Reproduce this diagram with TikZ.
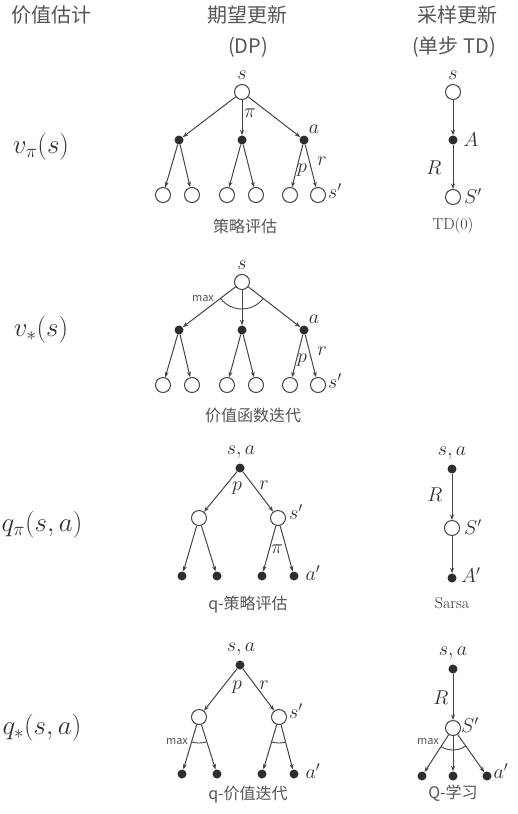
\RequirePackage{fix-cm}
\documentclass[tikz,border=0pt]{standalone}
\usepackage{fontspec}
\newfontfamily\cjk{Noto Sans CJK SC}
\usetikzlibrary{arrows.meta}
\definecolor{lc}{HTML}{444444}
\definecolor{dc}{HTML}{2E2E2E}
\definecolor{tc}{HTML}{303030}
\definecolor{hc}{HTML}{555555}
\begin{document}
\begin{tikzpicture}[x=1pt,y=-1pt,
  ocirc/.style={circle, draw=lc, line width=1pt, minimum size=15pt, inner sep=0pt, fill=white},
  fdot/.style={circle, fill=dc, minimum size=9pt, inner sep=0pt},
  edge/.style={draw=lc, line width=1pt, -{Stealth[length=5.5pt,width=4pt]}},
  maxarc/.style={draw=lc, line width=0.9pt},
  lab/.style={text=tc, font=\fontsize{20}{22}\selectfont, inner sep=0pt},
  bigmath/.style={text=tc, font=\fontsize{27}{30}\selectfont, inner sep=0pt},
  headtxt/.style={text=hc, font=\cjk\fontsize{20}{24}\selectfont, inner sep=0pt},
  captxt/.style={text=hc, font=\cjk\fontsize{16}{18}\selectfont, inner sep=0pt},
  capser/.style={text=tc, font=\fontsize{16}{18}\selectfont, inner sep=0pt},
  mxtxt/.style={text=hc, font=\cjk\fontsize{11}{12}\selectfont, inner sep=0pt}]
\useasboundingbox (0,0) rectangle (518,814);

% headers
\node[headtxt] (h1) at (52,15) {价值估计};
\node[headtxt] (h2) at (247,15) {期望更新};
\node[headtxt] (h2b) at (248,47) {(DP)};
\node[headtxt] (h3) at (457,15) {采样更新};
\node[headtxt] (h3b) at (454,47) {(单步 TD)};

% left labels
\node[bigmath] (L1) at (41,147) {$v_\pi(s)$};
\node[bigmath] (L2) at (41,330) {$v_*(s)$};
\node[bigmath] (L3) at (42,525) {$q_\pi(s,a)$};
\node[bigmath] (L4) at (42,728) {$q_*(s,a)$};

% ---------- Row 1 DP ----------
\node[ocirc] (r1) at (242,92) {};
\node[fdot] (r1a) at (179,140) {};
\node[fdot] (r1b) at (242,140) {};
\node[fdot] (r1c) at (304,140) {};
\node[ocirc] (r1l1) at (163,195) {};
\node[ocirc] (r1l2) at (192,195) {};
\node[ocirc] (r1l3) at (227,195) {};
\node[ocirc] (r1l4) at (256,195) {};
\node[ocirc] (r1l5) at (290,195) {};
\node[ocirc] (r1l6) at (318,195) {};
\draw[edge] (r1) -- (r1a);
\draw[edge] (r1) -- (r1b);
\draw[edge] (r1) -- (r1c);
\draw[edge] (r1a) -- (r1l1);
\draw[edge] (r1a) -- (r1l2);
\draw[edge] (r1b) -- (r1l3);
\draw[edge] (r1b) -- (r1l4);
\draw[edge] (r1c) -- (r1l5);
\draw[edge] (r1c) -- (r1l6);
\node[lab] (r1s) at (242,75) {$s$};
\node[lab] (r1pi) at (250,113) {$\pi$};
\node[lab] (r1an) at (314,129) {$a$};
\node[lab] (r1p) at (302,170) {$p$};
\node[lab] (r1r) at (322,161) {$r$};
\node[lab] (r1sp) at (335,191) {$s'$};
\node[captxt] (c1) at (245,226) {策略评估};

% ---------- Row 1 TD ----------
\node[ocirc] (t1) at (453,92) {};
\node[fdot] (t1a) at (453,140) {};
\node[ocirc] (t1s) at (453,197) {};
\draw[edge] (t1) -- (t1a);
\draw[edge] (t1a) -- (t1s);
\node[lab] (t1sl) at (453,75) {$s$};
\node[lab] (t1al) at (471,140) {$A$};
\node[lab] (t1rl) at (434,168) {$R$};
\node[lab] (t1spl) at (473,196) {$S'$};
\node[capser] (c1t) at (453,226) {TD(0)};

% ---------- Row 2 DP ----------
\node[ocirc] (r2) at (242,282) {};
\node[fdot] (r2a) at (179,330) {};
\node[fdot] (r2b) at (242,330) {};
\node[fdot] (r2c) at (304,330) {};
\node[ocirc] (r2l1) at (163,385) {};
\node[ocirc] (r2l2) at (192,385) {};
\node[ocirc] (r2l3) at (227,385) {};
\node[ocirc] (r2l4) at (256,385) {};
\node[ocirc] (r2l5) at (290,385) {};
\node[ocirc] (r2l6) at (318,385) {};
\draw[edge] (r2) -- (r2a);
\draw[edge] (r2) -- (r2b);
\draw[edge] (r2) -- (r2c);
\draw[edge] (r2a) -- (r2l1);
\draw[edge] (r2a) -- (r2l2);
\draw[edge] (r2b) -- (r2l3);
\draw[edge] (r2b) -- (r2l4);
\draw[edge] (r2c) -- (r2l5);
\draw[edge] (r2c) -- (r2l6);
\draw[maxarc] ([shift={(142.7:27)}]r2.center) arc[start angle=142.7, end angle=37.7, radius=27];
\node[mxtxt] (r2mx) at (203,299) {max};
\node[lab] (r2s) at (242,265) {$s$};
\node[lab] (r2an) at (314,319) {$a$};
\node[lab] (r2p) at (302,360) {$p$};
\node[lab] (r2r) at (322,351) {$r$};
\node[lab] (r2sp) at (335,381) {$s'$};
\node[captxt] (c2) at (253,415) {价值函数迭代};

% ---------- Row 3 DP ----------
\node[fdot] (r3) at (240,468) {};
\node[ocirc] (r3a) at (199,518) {};
\node[ocirc] (r3b) at (278,518) {};
\node[fdot] (r3l1) at (182,576) {};
\node[fdot] (r3l2) at (217,576) {};
\node[fdot] (r3l3) at (262,576) {};
\node[fdot] (r3l4) at (294,576) {};
\draw[edge] (r3) -- (r3a);
\draw[edge] (r3) -- (r3b);
\draw[edge] (r3a) -- (r3l1);
\draw[edge] (r3a) -- (r3l2);
\draw[edge] (r3b) -- (r3l3);
\draw[edge] (r3b) -- (r3l4);
\node[lab] (r3sa) at (241,452) {$s,a$};
\node[lab] (r3p) at (237,488) {$p$};
\node[lab] (r3r) at (264,485) {$r$};
\node[lab] (r3sp) at (296,512) {$s'$};
\node[lab] (r3pi) at (277,549) {$\pi$};
\node[lab] (r3ap) at (313,573) {$a'$};
\node[captxt] (c3) at (248,605) {q-策略评估};

% ---------- Row 3 TD ----------
\node[fdot] (t3) at (452,469) {};
\node[ocirc] (t3s) at (452,528) {};
\node[fdot] (t3a) at (452,578) {};
\draw[edge] (t3) -- (t3s);
\draw[edge] (t3s) -- (t3a);
\node[lab] (t3sa) at (452,453) {$s,a$};
\node[lab] (t3rl) at (435,495) {$R$};
\node[lab] (t3spl) at (473,527) {$S'$};
\node[lab] (t3apl) at (471,575) {$A'$};
\node[capser] (c3t) at (452,603) {Sarsa};

% ---------- Row 4 DP ----------
\node[fdot] (r4) at (240,665) {};
\node[ocirc] (r4a) at (199,717) {};
\node[ocirc] (r4b) at (279,717) {};
\node[fdot] (r4l1) at (182,774) {};
\node[fdot] (r4l2) at (217,774) {};
\node[fdot] (r4l3) at (262,774) {};
\node[fdot] (r4l4) at (294,774) {};
\draw[edge] (r4) -- (r4a);
\draw[edge] (r4) -- (r4b);
\draw[edge] (r4a) -- (r4l1);
\draw[edge] (r4a) -- (r4l2);
\draw[edge] (r4b) -- (r4l3);
\draw[edge] (r4b) -- (r4l4);
\draw[maxarc] ([shift={(106.6:26)}]r4a.center) arc[start angle=106.6, end angle=73.4, radius=26];
\draw[maxarc] ([shift={(106.6:26)}]r4b.center) arc[start angle=106.6, end angle=75.3, radius=26];
\node[mxtxt] (r4mx) at (177,741) {max};
\node[lab] (r4sa) at (241,649) {$s,a$};
\node[lab] (r4p) at (237,687) {$p$};
\node[lab] (r4r) at (264,685) {$r$};
\node[lab] (r4sp) at (296,711) {$s'$};
\node[lab] (r4ap) at (313,771) {$a'$};
\node[captxt] (c4) at (248,795) {q-价值迭代};

% ---------- Row 4 TD ----------
\node[fdot] (t4) at (453,669) {};
\node[ocirc] (t4s) at (453,728) {};
\node[fdot] (t4l1) at (422,776) {};
\node[fdot] (t4l2) at (453,776) {};
\node[fdot] (t4l3) at (487,776) {};
\draw[edge] (t4) -- (t4s);
\draw[edge] (t4s) -- (t4l1);
\draw[edge] (t4s) -- (t4l2);
\draw[edge] (t4s) -- (t4l3);
\draw[maxarc] ([shift={(122.9:22)}]t4s.center) arc[start angle=122.9, end angle=54.7, radius=22];
\node[mxtxt] (t4mx) at (428,741) {max};
\node[lab] (t4sa) at (453,653) {$s,a$};
\node[lab] (t4rl) at (441,698) {$R$};
\node[lab] (t4spl) at (470,725) {$S'$};
\node[lab] (t4apl) at (501,771) {$a'$};
\node[captxt] (c4t) at (453,793) {Q-学习};
\end{tikzpicture}
\end{document}
